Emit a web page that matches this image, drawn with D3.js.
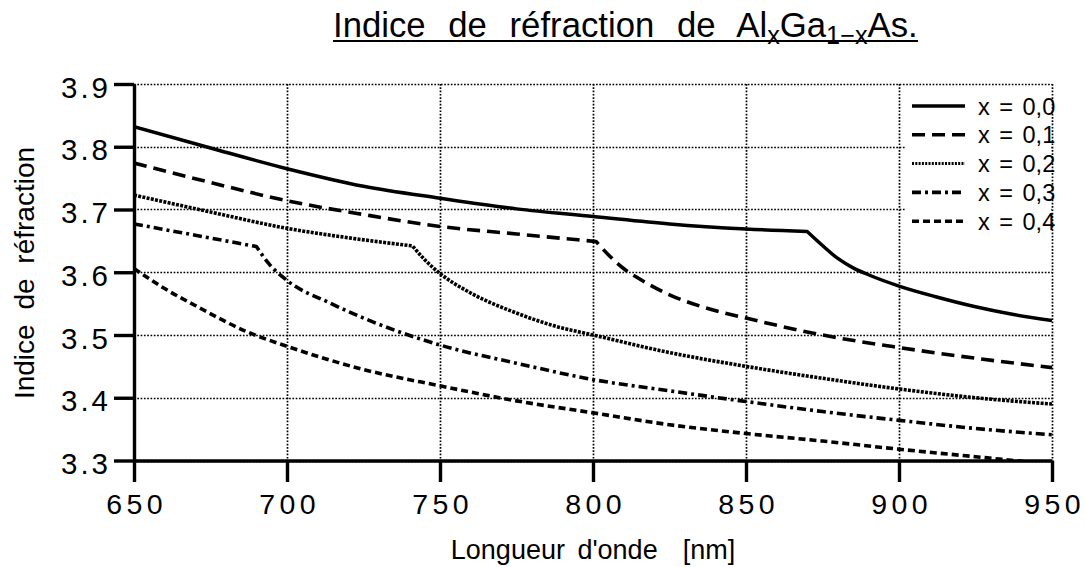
<!DOCTYPE html>
<html><head><meta charset="utf-8">
<script src="https://cdn.jsdelivr.net/npm/d3@7"></script>
<style>
body{margin:0;background:#fff}
svg{display:block;font-family:"Liberation Sans",Arial,Helvetica,sans-serif}
</style>
</head><body>
<svg id="c" width="1085" height="567"></svg>
<script>
// ---- data ----
const xTicks = [650, 700, 750, 800, 850, 900, 950];
const yTicks = [3.3, 3.4, 3.5, 3.6, 3.7, 3.8, 3.9];
const seriesLabels = ["x = 0,0", "x = 0,1", "x = 0,2", "x = 0,3", "x = 0,4"];

const lambda00 = [650, 675, 700, 725, 750, 775, 800, 825, 850, 870, 874, 880, 885, 890, 900, 912, 925, 937, 950];
const n00      = [3.832, 3.798, 3.765, 3.737, 3.718, 3.701, 3.689, 3.677, 3.669, 3.665, 3.647, 3.622, 3.607, 3.596, 3.578, 3.561, 3.545, 3.533, 3.523];
const kink00 = 870;

const lambda01 = [650, 675, 700, 725, 750, 775, 801, 805, 810, 815, 825, 837, 850, 875, 900, 925, 950];
const n01      = [3.774, 3.743, 3.714, 3.692, 3.673, 3.661, 3.649, 3.628, 3.606, 3.590, 3.564, 3.543, 3.527, 3.500, 3.480, 3.463, 3.448];
const kink01 = 801;

const lambda02 = [650, 675, 700, 720, 741, 745, 750, 760, 775, 787, 800, 825, 850, 875, 900, 925, 950];
const n02      = [3.723, 3.696, 3.670, 3.655, 3.642, 3.620, 3.598, 3.567, 3.535, 3.515, 3.500, 3.472, 3.450, 3.431, 3.414, 3.400, 3.390];
const kink02 = 741;

const lambda03 = [650, 670, 690, 694, 700, 714, 725, 750, 775, 800, 825, 850, 875, 900, 925, 950];
const n03      = [3.677, 3.659, 3.641, 3.614, 3.587, 3.551, 3.527, 3.484, 3.455, 3.429, 3.411, 3.394, 3.378, 3.364, 3.351, 3.341];
const kink03 = 690;

const lambda04 = [650, 660, 670, 687, 700, 725, 750, 775, 800, 825, 850, 875, 900, 925, 950];
const n04      = [3.606, 3.574, 3.547, 3.505, 3.482, 3.445, 3.419, 3.395, 3.376, 3.357, 3.343, 3.331, 3.318, 3.306, 3.294];
const kink04 = null;

// ---- styles ----
const dashes = [null, "13,7", "3,1.3", "9,4,3,4", "7,4"];
const widths = [3.5, 3.6, 3.6, 3.6, 3.6];
const legendDashes = [null, "13,7", "2,1.3", "9,4,3,4", "7,4"];
const legendWidths = [3.5, 3.6, 3.0, 3.6, 3.6];

const lambdas = [lambda00, lambda01, lambda02, lambda03, lambda04];
const ns = [n00, n01, n02, n03, n04];
const kinks = [kink00, kink01, kink02, kink03, kink04];

const svg = d3.select("#c");
const x = d3.scaleLinear().domain([650, 950]).range([134, 1052]);
const y = d3.scaleLinear().domain([3.3, 3.9]).range([460.5, 84]);
const r = v => Math.round(v) + 0.5;

// grid
const grid = svg.append("g").attr("stroke", "#000").attr("stroke-width", 1.7).attr("stroke-dasharray", "1.7,1.6");
grid.selectAll("line.v").data(xTicks).join("line")
  .attr("x1", d => r(x(d))).attr("x2", d => r(x(d))).attr("y1", y(3.9)).attr("y2", y(3.3));
grid.selectAll("line.h").data(yTicks).join("line")
  .attr("y1", d => r(y(d))).attr("y2", d => r(y(d))).attr("x1", x(650)).attr("x2", x(950));

// clip
svg.append("clipPath").attr("id", "clip").append("rect")
  .attr("x", x(650)).attr("y", y(3.9)).attr("width", x(950) - x(650)).attr("height", y(3.3) - y(3.9));

const line = d3.line().x(d => x(d[0])).y(d => y(d[1])).curve(d3.curveMonotoneX);
function pathFor(i) {
  const pts = lambdas[i].map((l, j) => [l, ns[i][j]]);
  const k = kinks[i] == null ? -1 : lambdas[i].indexOf(kinks[i]);
  if (k < 0) return line(pts);
  const a = line(pts.slice(0, k + 1));
  const b = line(pts.slice(k)).replace(/^M[^A-Za-z]*/, "");
  return a + b;
}
const curves = svg.append("g").attr("clip-path", "url(#clip)");
lambdas.forEach((l, i) => {
  curves.append("path").attr("d", pathFor(i)).attr("fill", "none").attr("stroke", "#000")
    .attr("stroke-width", widths[i]).attr("stroke-dasharray", dashes[i]).attr("stroke-linejoin", "round");
});

// legend
svg.append("rect").attr("x", 906).attr("y", 86.5).attr("width", 144).attr("height", 184.5).attr("fill", "#fff");
const lg = svg.append("g");
seriesLabels.forEach((s, i) => {
  const yy = 106 + i * 28.8;
  lg.append("line").attr("x1", 912).attr("x2", 965).attr("y1", yy).attr("y2", yy)
    .attr("stroke", "#000").attr("stroke-width", legendWidths[i]).attr("stroke-dasharray", legendDashes[i]);
  lg.append("text").attr("x", 978).attr("y", yy + 8.5).attr("font-size", 23.5).attr("word-spacing", 3).text(s);
});

// axes
const yAxis = d3.axisLeft(y).tickValues(yTicks).tickSize(20).tickSizeOuter(0).tickPadding(3)
  .tickFormat(d3.format(".1f"));
const gy = svg.append("g").attr("transform", `translate(${x(650)},0)`).call(yAxis);
gy.attr("font-family", null).attr("font-size", null);
gy.select(".domain").attr("stroke-width", 3.4);
gy.selectAll(".tick line").attr("stroke-width", 3.4);
gy.selectAll(".tick text").attr("font-size", 29.5).attr("letter-spacing", 3).attr("fill", "#000")
  .attr("dy", "0.38em").attr("y", 2);

const xAxis = d3.axisBottom(x).tickValues(xTicks).tickSize(21.5).tickSizeOuter(0).tickPadding(12)
  .tickFormat(d3.format("d"));
const gx = svg.append("g").attr("transform", `translate(0,${y(3.3)})`).call(xAxis);
gx.attr("font-family", null).attr("font-size", null);
gx.select(".domain").attr("stroke-width", 3.4);
gx.selectAll(".tick line").attr("stroke-width", 3.4);
gx.selectAll(".tick text").attr("font-size", 28.5).attr("letter-spacing", 4.5).attr("dx", 2.2)
  .attr("fill", "#000");

// axis labels
svg.append("text").attr("transform", "translate(33.5,273) rotate(-90)").attr("text-anchor", "middle")
  .attr("font-size", 28).attr("word-spacing", 7).text("Indice de réfraction");
svg.append("text").attr("x", 593).attr("y", 559).attr("text-anchor", "middle")
  .attr("font-size", 27).attr("word-spacing", 5).style("white-space", "pre").text("Longueur d'onde  [nm]");

// title
const titleFs = 33;
const title = svg.append("text").attr("x", 333).attr("y", 37).attr("font-size", titleFs);
title.append("tspan").text("Indice de réfraction de Al");
title.append("tspan").attr("font-size", 24).attr("dy", 7).text("x");
title.append("tspan").attr("dy", -7).text("Ga");
title.append("tspan").attr("font-size", 24).attr("dy", 7).text("1−x");
title.append("tspan").attr("dy", -7).text("As.");
const target = 585, ws = 13;
const w0 = title.node().getComputedTextLength();
const scale = (target - 4 * ws) / w0;
title.attr("font-size", titleFs * scale).attr("word-spacing", ws);
title.selectAll("tspan").filter((d, i) => i === 1 || i === 3).attr("font-size", 24 * scale);
svg.append("line").attr("x1", 333).attr("x2", 333 + target).attr("y1", 41).attr("y2", 41)
  .attr("stroke", "#000").attr("stroke-width", 2.2);
</script>
</body></html>
